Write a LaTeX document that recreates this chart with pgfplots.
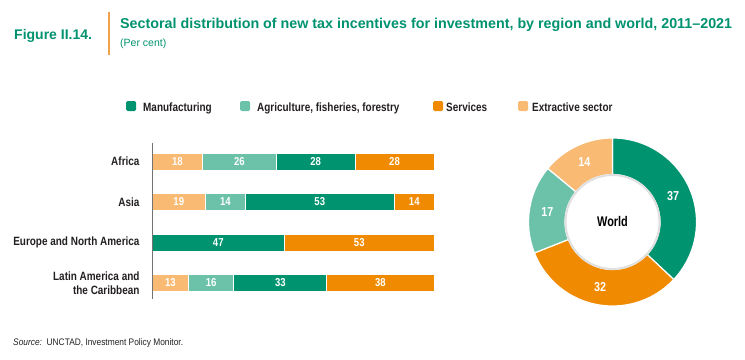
\documentclass[border=0pt]{standalone}
\usepackage{fontspec}
\setmainfont{Liberation Sans}[FakeStretch=0.88]
\newfontfamily\plainfont{Liberation Sans}
\newfontfamily\medfont{Liberation Sans}[FakeStretch=0.83]
\newfontfamily\condfont{Liberation Sans}[FakeStretch=0.78]
\usepackage{pgfplots}
\usepackage{pgfplotstable}
\pgfplotsset{compat=1.18}
\definecolor{cM}{HTML}{00936F}
\definecolor{cA}{HTML}{6CC2A9}
\definecolor{cS}{HTML}{F08A00}
\definecolor{cE}{HTML}{F9BA73}
\definecolor{cT}{HTML}{00926F}
\definecolor{cL}{HTML}{F0A24A}
\definecolor{cK}{HTML}{231F20}

\pgfplotstableread{
y ext agr man ser
0 18 26 28 28
1 19 14 53 14
2 0 0 47 53
3 13 16 33 38
}\bars

\newcommand\seg[3]{\fill[#3,draw=white,line width=1.2bp] ([shift={(#1:84bp)}]axis cs:0,0) arc[start angle=#1,end angle=#2,radius=84bp] -- ([shift={(#2:47.5bp)}]axis cs:0,0) arc[start angle=#2,end angle=#1,radius=47.5bp] -- cycle;}

\pgfplotsset{
  barframe/.style={at={(152bp,60bp)}, anchor=south west, scale only axis,
    width=282bp, height=156bp, xmin=0, xmax=100, ymin=-0.457, ymax=3.395, y dir=reverse, clip=false},
  lbl/.style={draw=none, mark=none, nodes near coords={\pgfmathfloatifflags{\pgfplotspointmeta}{0}{}{\pgfmathprintnumber{\pgfplotspointmeta}}},
    every node near coord/.append style={anchor=center, text=white, font=\medfont\bfseries\fontsize{11.5bp}{13bp}\selectfont}},
}
\newcommand\legfont{\medfont\bfseries\fontsize{12bp}{14bp}\selectfont}

\begin{document}
\begin{tikzpicture}[x=1bp,y=1bp]
\path[use as bounding box] (0,0) rectangle (745,359);
% header
\node[anchor=base west,inner sep=0,text=cT,font=\plainfont\bfseries\fontsize{14bp}{16bp}\selectfont] at (14,319.5) {Figure II.14.};
\draw[cL,line width=1.5bp] (109,304) -- (109,347);
\node[anchor=base west,inner sep=0,text=cT,font=\plainfont\bfseries\fontsize{14.3bp}{16bp}\selectfont] at (120,331) {Sectoral distribution of new tax incentives for investment, by region and world, 2011–2021};
\node[anchor=base west,inner sep=0,text=cT,font=\plainfont\fontsize{10.5bp}{12bp}\selectfont] at (120,313) {(Per cent)};
% legend
\fill[cM,rounded corners=1.5bp] (126,248) rectangle ++(10,10);
\node[anchor=base west,inner sep=0,text=cK,font=\legfont] at (143,248) {Manufacturing};
\fill[cA,rounded corners=1.5bp] (240,248) rectangle ++(10,10);
\node[anchor=base west,inner sep=0,text=cK,font=\legfont] at (257,248) {Agriculture, fisheries, forestry};
\fill[cS,rounded corners=1.5bp] (433,248) rectangle ++(10,10);
\node[anchor=base west,inner sep=0,text=cK,font=\legfont] at (446,248) {Services};
\fill[cE,rounded corners=1.5bp] (518,248) rectangle ++(10,10);
\node[anchor=base west,inner sep=0,text=cK,font=\legfont] at (532,248) {Extractive sector};
% source
\node[anchor=base west,inner sep=0,text=cK,font=\fontsize{9.5bp}{11bp}\selectfont] at (13,13.5) {\textit{Source:}\ \ UNCTAD, Investment Policy Monitor.};

\begin{axis}[barframe,
  xbar stacked, bar width=17bp,
  axis x line=none, axis y line*=left, xtick=\empty,
  y axis line style={draw=black!55, line width=0.9bp},
  ytick={0,1,2,3},
  yticklabels={Africa, Asia, Europe and North America, {Latin America and\\the Caribbean}},
  major tick length=0,
  yticklabel style={align=right, text=cK, font=\medfont\bfseries\fontsize{12bp}{13.5bp}\selectfont, xshift=-9bp},
  axis on top]
\addplot[fill=cE, draw=white, line width=0.8bp] table[x=ext, y=y] {\bars};
\addplot[fill=cA, draw=white, line width=0.8bp] table[x=agr, y=y] {\bars};
\addplot[fill=cM, draw=white, line width=0.8bp] table[x=man, y=y] {\bars};
\addplot[fill=cS, draw=white, line width=0.8bp] table[x=ser, y=y] {\bars};
\end{axis}
% value labels, centred in each segment
\begin{axis}[barframe, hide axis, /pgf/number format/assume math mode=true]
\addplot[lbl, point meta=\thisrow{ext}] table[x expr=\thisrow{ext}/2, y=y] {\bars};
\addplot[lbl, point meta=\thisrow{agr}] table[x expr=\thisrow{ext}+\thisrow{agr}/2, y=y] {\bars};
\addplot[lbl, point meta=\thisrow{man}] table[x expr=\thisrow{ext}+\thisrow{agr}+\thisrow{man}/2, y=y] {\bars};
\addplot[lbl, point meta=\thisrow{ser}] table[x expr=\thisrow{ext}+\thisrow{agr}+\thisrow{man}+\thisrow{ser}/2, y=y] {\bars};
\end{axis}

% donut
\def\wM{37}\def\wS{32}\def\wA{17}\def\wE{14}
\pgfmathsetmacro\aA{90}
\pgfmathsetmacro\aB{\aA-3.6*\wM}
\pgfmathsetmacro\aC{\aB-3.6*\wS}
\pgfmathsetmacro\aD{\aC-3.6*\wA}
\pgfmathsetmacro\aE{\aD-3.6*\wE}
\pgfmathsetmacro\mM{(\aA+\aB)/2}
\pgfmathsetmacro\mS{(\aB+\aC)/2}
\pgfmathsetmacro\mA{(\aC+\aD)/2}
\pgfmathsetmacro\mE{(\aD+\aE)/2}
\begin{axis}[at={(612.5bp,137bp)}, anchor=center, scale only axis,
  width=168bp, height=168bp, xmin=-1, xmax=1, ymin=-1, ymax=1,
  hide axis, clip=false]
\seg{\aA}{\aB}{cM}
\seg{\aB}{\aC}{cS}
\seg{\aC}{\aD}{cA}
\seg{\aD}{\aE}{cE}
\draw[black!12, line width=2bp, fill=white] (axis cs:0,0) circle[radius=47bp];
\node[text=white,font=\medfont\bfseries\fontsize{13bp}{15bp}\selectfont] at ([shift={(\mM:66bp)}]axis cs:0,0) {\wM};
\node[text=white,font=\medfont\bfseries\fontsize{13bp}{15bp}\selectfont] at ([shift={(\mS:66bp)}]axis cs:0,0) {\wS};
\node[text=white,font=\medfont\bfseries\fontsize{13bp}{15bp}\selectfont] at ([shift={(\mA:66bp)}]axis cs:0,0) {\wA};
\node[text=white,font=\medfont\bfseries\fontsize{13bp}{15bp}\selectfont] at ([shift={(\mE:66bp)}]axis cs:0,0) {\wE};
\node[text=black,font=\condfont\bfseries\fontsize{14bp}{16bp}\selectfont] at (axis cs:0,0.01) {World};
\end{axis}
\end{tikzpicture}
\end{document}
